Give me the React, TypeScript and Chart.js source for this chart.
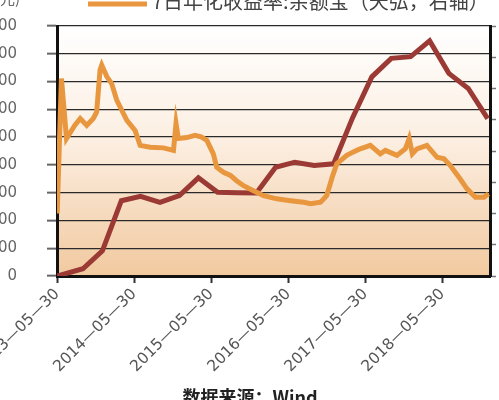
import React, { useEffect, useRef } from 'react';
import { Chart, registerables, ChartConfiguration, Plugin } from 'chart.js';

Chart.register(...registerables);

// 规模：余额宝(天弘，亿元) — quarter ends
const scaleDates = [
  '2013-05-31', '2013-09-30', '2013-12-31', '2014-03-31', '2014-06-30',
  '2014-09-30', '2014-12-31', '2015-03-31', '2015-06-30', '2015-09-30',
  '2015-12-31', '2016-03-31', '2016-06-30', '2016-09-30', '2016-12-31',
  '2017-03-31', '2017-06-30', '2017-09-30', '2017-12-31', '2018-03-31',
  '2018-06-30', '2018-09-30', '2018-12-31',
];
const scaleValues = [
  0, 520, 1810, 5420, 5740, 5300, 5790, 7070, 6030, 6000, 5980, 7830, 8195,
  7960, 8080, 11400, 14340, 15670, 15790, 16930, 14590, 13500, 11330,
];

// 7日年化收益率：余额宝(天弘，右轴)
const yieldDates = [
  '2013-05-31', '2013-06-20', '2013-07-14', '2013-08-22', '2013-09-17',
  '2013-10-18', '2013-11-18', '2013-12-04', '2013-12-20', '2013-12-28',
  '2014-01-21', '2014-02-13', '2014-03-09', '2014-04-26', '2014-06-04',
  '2014-06-28', '2014-08-14', '2014-10-16', '2014-12-03', '2014-12-15',
  '2014-12-26', '2015-02-04', '2015-03-15', '2015-04-13', '2015-05-10',
  '2015-06-10', '2015-06-26', '2015-07-28', '2015-08-30', '2015-09-28',
  '2015-10-31', '2015-12-17', '2016-02-03', '2016-04-05', '2016-06-10',
  '2016-08-11', '2016-09-13', '2016-10-30', '2016-11-28', '2016-12-24',
  '2017-01-15', '2017-03-03', '2017-04-20', '2017-05-06', '2017-06-23',
  '2017-08-09', '2017-09-02', '2017-10-27', '2017-12-06', '2017-12-24',
  '2018-01-08', '2018-01-30', '2018-03-18', '2018-05-05', '2018-06-07',
  '2018-07-06', '2018-08-22', '2018-09-24', '2018-11-03', '2018-12-13',
  '2019-01-04',
];
const yieldValues = [
  2.0, 6.32, 4.4, 4.82, 5.04, 4.82, 5.04, 5.25, 6.59, 6.75, 6.38, 6.16, 5.63,
  4.98, 4.66, 4.18, 4.12, 4.1, 4.02, 4.88, 4.4, 4.43, 4.5, 4.45, 4.34, 3.91,
  3.48, 3.32, 3.22, 3.05, 2.89, 2.73, 2.57, 2.47, 2.41, 2.36, 2.31, 2.36,
  2.57, 3.16, 3.59, 3.86, 4.02, 4.07, 4.18, 3.91, 4.02, 3.86, 4.07, 4.4, 3.91,
  4.07, 4.18, 3.8, 3.75, 3.54, 3.11, 2.79, 2.52, 2.52, 2.63,
];

const tickDates = [
  '2013-05-30', '2014-05-30', '2015-05-30', '2016-05-30', '2017-05-30',
  '2018-05-30',
];
const xStart = '2013-05-30';
const xEnd = '2019-01-11';

const legendText = '7日年化收益率:余额宝（天弘，右轴）';
const unitText = '(亿元)';
const sourceText = '数据来源：Wind';

const toPoints = (dates: string[], values: number[]) =>
  dates.map((d, i) => ({ x: Date.parse(d), y: values[i] }));

const backdrop: Plugin = {
  id: 'backdrop',
  beforeDraw(chart) {
    const { ctx, chartArea } = chart;
    if (!chartArea) return;
    const g = ctx.createLinearGradient(0, chartArea.top, 0, chartArea.bottom);
    g.addColorStop(0, '#ffffff');
    g.addColorStop(0.45, '#fcefe2');
    g.addColorStop(1, '#f1c99f');
    ctx.save();
    ctx.fillStyle = g;
    ctx.fillRect(
      chartArea.left,
      chartArea.top,
      chartArea.right - chartArea.left,
      chartArea.bottom - chartArea.top
    );
    ctx.restore();
  },
  afterDraw(chart) {
    const { ctx } = chart;
    ctx.save();
    // legend (second row, top is cut off)
    ctx.strokeStyle = '#e9973f';
    ctx.lineWidth = 5;
    ctx.beginPath();
    ctx.moveTo(88, 4);
    ctx.lineTo(147, 4);
    ctx.stroke();
    ctx.fillStyle = '#444';
    ctx.font = '20px "Noto Sans CJK SC", sans-serif';
    ctx.textBaseline = 'middle';
    ctx.textAlign = 'left';
    ctx.fillText(legendText, 152, 1);
    // left unit
    ctx.font = '15px "Noto Sans CJK SC", sans-serif';
    ctx.fillStyle = '#666';
    ctx.textAlign = 'right';
    ctx.fillText(unitText, 20, -2);
    // source
    ctx.fillStyle = '#222';
    ctx.textAlign = 'center';
    ctx.font = 'bold 18px "Noto Sans CJK SC", sans-serif';
    ctx.fillText(sourceText, 250, 397);
    ctx.restore();
  },
};

const App: React.FC = () => {
  const chartRef = useRef<HTMLCanvasElement>(null);

  useEffect(() => {
    if (!chartRef.current) return;
    const tickFont = { family: '"DejaVu Sans", sans-serif', size: 15 };

    const config: ChartConfiguration<'line'> = {
      type: 'line',
      data: {
        datasets: [
          {
            label: '规模:余额宝(天弘，亿元)',
            data: toPoints(scaleDates, scaleValues),
            borderColor: '#9b3a35',
            borderWidth: 5,
            pointRadius: 0,
            yAxisID: 'y',
            order: 1,
          },
          {
            label: legendText,
            data: toPoints(yieldDates, yieldValues),
            borderColor: '#e9973f',
            borderWidth: 5,
            pointRadius: 0,
            yAxisID: 'y1',
            order: 0,
          },
        ],
      },
      options: {
        animation: false,
        responsive: false,
        maintainAspectRatio: false,
        layout: { autoPadding: false, padding: { top: 26, left: 0, right: 0, bottom: 0 } },
        plugins: { legend: { display: false }, tooltip: { enabled: false } },
        scales: {
          x: {
            type: 'linear',
            min: Date.parse(xStart),
            max: Date.parse(xEnd),
            afterBuildTicks: (scale) => {
              scale.ticks = tickDates.map((d) => ({ value: Date.parse(d) }));
            },
            afterFit: (scale: any) => {
              scale.height = 124;
              scale.paddingLeft = 0;
              scale.paddingRight = 0;
            },
            ticks: {
              autoSkip: false,
              minRotation: 45,
              maxRotation: 45,
              color: '#555',
              font: { ...tickFont, size: 15.5 },
              padding: 2,
              callback: (_v, i) => tickDates[i].replace(/-/g, '—'),
            },
            grid: {
              drawOnChartArea: false,
              drawTicks: true,
              tickLength: 7,
              tickColor: '#333',
              tickWidth: 2,
            },
            border: { color: '#111', width: 3 },
          },
          y: {
            position: 'left',
            min: 0,
            max: 18000,
            afterFit: (scale: any) => {
              scale.width = 57;
              scale.paddingTop = 0;
              scale.paddingBottom = 0;
            },
            ticks: {
              stepSize: 2000,
              color: '#666',
              font: tickFont,
              padding: 30,
            },
            grid: {
              color: '#2a2a2a',
              lineWidth: 1.3,
              tickLength: 10,
              tickColor: '#666',
              tickWidth: 2,
            },
            border: { color: '#111', width: 3 },
          },
          y1: {
            position: 'right',
            min: 0,
            max: 8,
            afterFit: (scale: any) => {
              scale.width = 9;
              scale.paddingTop = 0;
              scale.paddingBottom = 0;
            },
            ticks: { stepSize: 1, color: '#666', font: tickFont },
            grid: {
              drawOnChartArea: false,
              tickLength: 6,
              tickColor: '#777',
              tickWidth: 1.5,
            },
            border: { color: '#111', width: 3 },
          },
        },
      },
      plugins: [backdrop],
    };

    const chart = new Chart(chartRef.current, config);
    return () => chart.destroy();
  }, []);

  return (
    <div style={{ position: 'absolute', left: 0, top: 0, width: 499, height: 400 }}>
      <canvas ref={chartRef} width={499} height={400} />
    </div>
  );
};

export default App;
